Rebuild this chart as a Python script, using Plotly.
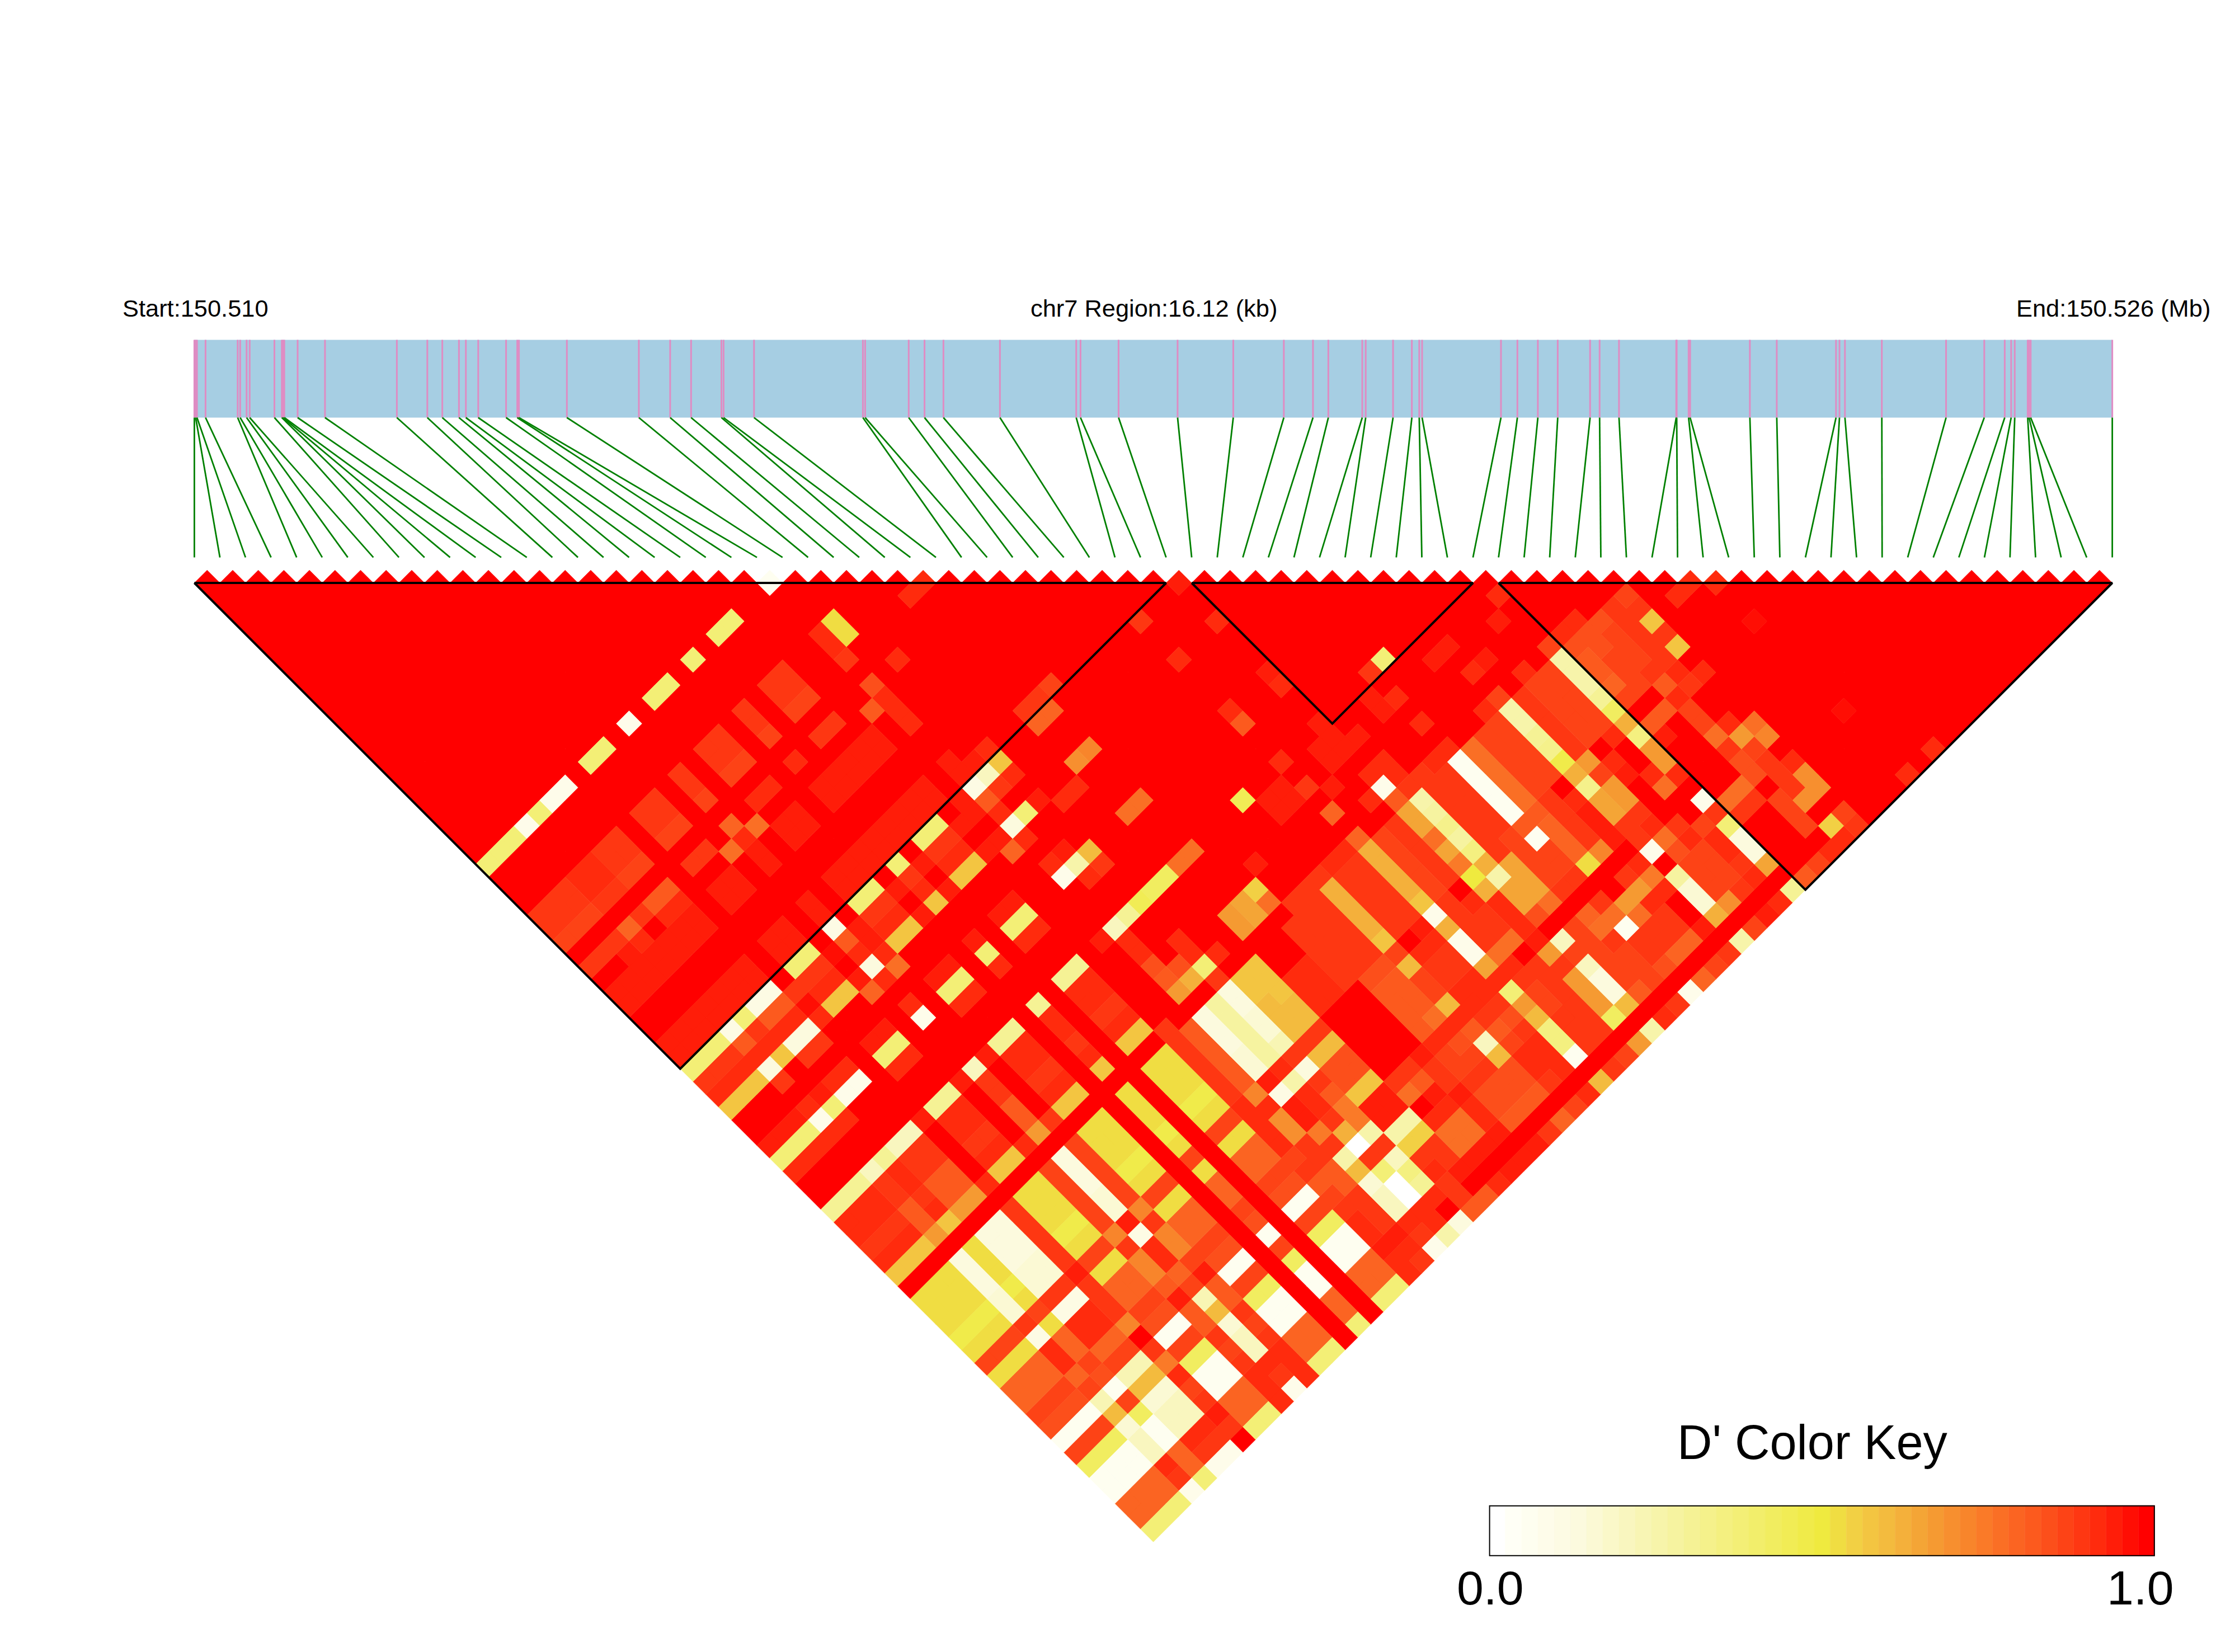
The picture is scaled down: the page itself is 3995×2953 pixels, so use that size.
import plotly.graph_objects as go

# ---------------- data ----------------
SNP_KB = [0,.011,.022,.094,.364,.385,.439,.465,.673,.735,.745,.756,.868,1.098,1.702,1.958,2.084,2.224,2.282,2.386,
          2.620,2.714,2.728,3.131,3.736,3.999,4.175,4.430,4.448,4.704,5.619,5.638,6.004,6.137,6.296,6.771,7.412,7.448,
          7.768,8.264,8.732,9.157,9.402,9.531,9.816,9.845,10.075,10.233,10.295,10.319,10.982,11.120,11.292,11.459,
          11.731,11.811,11.974,12.455,12.459,12.559,12.572,13.074,13.300,13.798,13.827,13.873,14.183,14.723,15.044,
          15.216,15.270,15.300,15.409,15.421,15.434,16.12]
REGION_KB = 16.12
BLOCKS = [(0, 38), (39, 50), (51, 75)]

# D' is stored as a colour-key level 0..40 (level/40 = D'); cells not listed are 40
Y_SNPS = [0,1,2,4,8,9,13,14,16,18,19]
P_SNPS = [3,5,6,11,22]
Y_BY_J = {23:15,39:15,40:36,41:37,42:23,45:38,46:15,47:37,50:12,51:37,52:37,53:36,54:37,55:23,57:21,58:21,59:21,60:19,
          61:21,62:35,63:21,64:32,65:32,66:35,67:34,68:2,69:35,70:17,71:2,72:2,73:32,74:32,75:15}
P_BY_J = {23:3,39:4,40:33,41:37,42:5,45:37,46:3,47:37,50:8,51:36,52:36,53:33,54:33,55:27,57:5,58:5,59:5,60:6,61:6,62:36,
          63:4,64:37,65:37,66:32,67:35,68:9,69:24,70:6,71:8,72:8,73:37,74:36,75:3}
ROWS_LOW = {
 23:{22:2},
 27:{0:36,1:36,2:36,3:37,4:37,5:36,6:36,8:36,9:36,11:36,13:36,14:36,16:36,18:36,19:36,22:37,23:21},
 28:{0:36,1:36,2:36,3:37,4:37,5:36,6:36,8:36,9:36,11:36,13:36,14:36,16:36,18:36,19:36,22:37,23:21},
 29:{0:35,1:35,2:35,3:36,4:36,5:35,6:35,8:35,9:35,11:35,13:35,14:35,16:35,18:35,19:35,22:36,27:37,28:37},
 31:{0:36,1:36,2:36,3:32,4:36,5:33,6:33,8:36,9:36,11:32,13:37,14:37,16:37,18:36,19:36,22:34,24:37},
 32:{2:38,3:37,5:37,6:37,10:31,11:37,12:31,21:33,22:37},
 33:{0:38,1:38,2:38,3:38,4:38,5:38,6:38,8:38,9:38,11:38,13:38,14:38,16:38,17:38,18:38,19:38,20:38,22:37},
 34:{0:38,1:38,2:38,3:38,4:38,5:38,6:38,8:38,9:38,11:38,13:38,14:38,16:38,17:38,18:38,19:38,20:38,22:37},
 37:{0:38,1:38,2:38,3:38,4:38,5:38,6:38,8:38,9:38,11:38,13:38,14:38,15:38,16:38,17:38,18:38,19:38,20:38,22:38},
 38:{0:38,1:38,2:38,3:38,4:38,5:38,6:38,8:38,9:38,11:38,13:38,14:38,15:38,16:38,17:38,18:38,19:38,20:38,22:38,23:38,24:37,27:36,28:36,29:35},
 39:{21:38,23:8,24:23,27:32,28:32,35:36,38:38},
 40:{7:36,10:39,12:38,15:38,17:38,20:38,21:38,23:36,24:37},
 41:{7:39,10:40,12:38},
 42:{7:37,10:38,12:37,15:38,17:38,20:38,21:38,23:15,24:38,27:28,28:29,35:37,38:37},
 43:{3:36,5:36,6:36,10:32,11:37,12:31,21:32,22:37,25:37,26:37},
 45:{22:37,23:38},
 46:{23:10,24:24,27:31,28:31,35:37,38:38},
 47:{5:40,6:40,11:40,22:40,23:37,24:36,35:33,38:37},
 50:{7:38,10:38,12:38,21:38,23:12,24:18,25:17,26:17,27:31,28:31,32:18,35:37,38:38,42:36,43:15},
 51:{22:37,33:38,34:38,37:38,38:38,41:38},
 52:{22:37,33:38,34:38,35:36,37:38,38:38,39:38,41:38,42:37,45:38,46:38,50:37},
 53:{22:34,24:37,30:38,36:38,49:38},
 54:{22:33,23:34,24:37,27:27,28:26,29:22,35:32,38:37,39:37,42:37,46:37,47:38},
 55:{7:37,10:37,12:36,23:25,24:15,25:37,27:27,28:26,29:31,37:37,38:3,39:37},
 56:{20:36,24:36,30:36,31:36,32:36,33:37,34:37,35:32,38:33,39:36,40:36,41:37,42:37,45:37,46:35,48:37,50:35,51:37,52:37},
}
# columns over j = 57..61
COLS_57_61 = {7:[36]*5,10:[35]*5,12:[35]*5,20:[36]*5,21:[33]*5,23:[11]*5,24:[5,5,6,6,9],25:[23,23,24,24,24],26:[23,23,23,24,24],
 27:[40,40,37,37,37],28:[40,40,37,37,37],29:[36]*5,30:[36]*5,31:[36]*5,32:[25,25,25,25,23],33:[36]*5,34:[36]*5,35:[25,25,25,25,23],
 36:[35]*5,37:[36]*5,38:[26,26,31,26,30],39:[10,11,13,11,14],40:[36]*5,41:[36]*5,42:[2]*5,43:[31]*5,44:[35]*5,45:[35]*5,
 46:[10,10,12,13,19],47:[36]*5,48:[35]*5,49:[35]*5,50:[10,10,10,12,17],51:[34,33,33,32,35],52:[34,34,35,35,35],
 53:[34,35,35,35,36],54:[36]*5,55:[35,36,23,36,23]}
ROWS_HIGH = {
 62:{7:38,10:29,11:38,12:29,20:37,21:29,22:38,23:37,24:36,25:36,26:36,30:34,31:34,32:35,34:38,35:3,36:36,38:20,39:25,40:36,41:35,42:33,43:33,44:36,46:25,47:27,49:37,50:25,53:33,54:37},
 63:{7:36,10:36,12:36,20:37,21:37,23:10,24:5,25:24,26:24,30:33,31:33,32:24,33:37,34:37,35:25,36:36,37:37,38:25,39:10,40:26,41:35,42:2,43:32,44:36,45:37,46:13,47:35,48:37,50:14,51:33,52:33,53:37,54:36,55:37},
 64:{7:36,10:29,12:29,20:37,21:28,22:38,23:37,24:36,25:34,26:34,30:33,31:33,32:35,33:36,34:36,35:3,36:36,37:36,38:37,39:26,40:26,41:35,42:35,43:32,44:36,45:38,46:26,47:27,48:38,50:27,51:38,53:35},
 65:{7:36,10:29,12:29,20:37,21:28,22:38,23:37,24:33,25:34,26:34,30:33,31:33,32:35,33:36,34:36,35:3,36:36,37:36,38:37,39:26,40:26,41:35,42:35,43:32,44:36,45:38,46:26,47:27,49:37,50:27,53:35},
 66:{7:29,10:33,12:35,20:35,21:36,22:30,23:36,24:30,25:23,26:23,30:33,31:31,32:24,33:37,34:37,35:26,36:31,37:31,38:37,39:34,40:31,41:36,42:36,43:21,44:29,45:38,46:36,47:36,49:31,50:37,53:31,54:37},
 67:{7:40,10:38,12:38,20:36,21:36,22:36,23:25,24:30,25:38,26:38,27:36,28:36,29:38,30:37,31:37,32:37,33:37,34:37,35:37,36:37,38:38,46:36,47:37,53:36,54:27,55:31},
 68:{7:36,10:33,12:33,20:33,21:33,22:10,23:0,24:10,25:38,26:38,27:31,28:33,29:36,30:35,31:34,32:33,33:36,34:36,35:15,36:36,37:36,38:27,39:8,40:35,41:32,42:36,44:36,45:37,46:3,47:31,48:36,50:3,53:34,54:35,55:29},
 69:{7:30,10:33,12:33,20:35,21:33,22:24,23:36,24:36,25:10,26:10,28:38,29:36,30:35,31:35,32:8,33:33,34:34,35:27,36:35,37:36,38:36,39:35,40:35,41:31,42:31,43:27,44:27,45:30,47:34,48:37,49:35,50:36,51:31,52:31,53:34,54:36},
 70:{7:37,10:36,12:36,20:36,21:36,22:6,23:15,24:8,25:22,26:22,27:37,28:37,29:38,30:36,31:36,32:24,33:35,34:36,35:24,36:35,37:36,38:27,39:8,40:35,41:36,42:2,43:31,44:37,45:37,46:11,47:35,48:35,49:37,50:15,51:36,52:36,54:36,55:37},
 71:{7:35,10:35,12:35,20:37,21:36,22:8,23:0,24:14,25:36,26:36,27:31,28:31,29:37,30:34,31:34,32:34,33:37,34:37,35:14,36:36,37:36,38:27,39:5,40:35,41:35,42:36,43:36,44:36,46:6,47:35,48:35,49:37,50:5,53:35,54:36,55:28},
 72:{7:36,10:36,12:36,20:37,21:36,22:8,23:0,24:12,25:37,26:36,27:31,28:31,29:37,30:34,31:34,32:34,33:37,34:37,35:14,36:36,37:36,38:27,39:5,40:35,41:35,42:36,43:36,44:36,46:6,47:35,48:35,49:36,50:5,53:35,54:28,55:28},
 73:{7:38,10:37,12:37,20:38,21:38,22:37,23:37,24:37,25:36,26:38,27:38,28:38,29:38,30:33,31:33,32:33,33:36,34:37,35:2,36:36,37:36,38:17,39:24,40:33,41:35,42:34,43:32,44:32,45:38,46:25,47:28,48:36,49:37,50:26,53:35},
 74:{7:36,10:37,12:37,20:37,21:37,22:36,23:37,25:36,54:22,55:35},
 75:{10:37,12:37,20:37,21:36,23:10,24:5,25:33,26:33,27:37,28:38,29:38,30:38,31:36,32:32,33:35,34:37,35:24,36:36,37:35,38:27,39:10,40:37,41:36,42:3,43:32,44:35,45:36,46:10,47:35,48:38,49:37,50:12,51:33,52:35,53:37,54:37,55:36,59:37,61:37},
}
SPARSE_UPPER = {(38,39):38,(35,42):37,(38,42):37,(38,46):38,(38,47):37,(43,50):15,(38,50):38,(35,50):37,(41,51):38,(39,52):38,(42,54):37,
 (49,53):38,(50,52):37,(46,52):38,(47,54):38,(46,54):37,(35,52):36,(36,53):38,(35,54):32,(33,51):38,(34,51):38,(33,52):38,(34,52):38,
 (28,29):37,(27,29):37,(57,59):37,(58,59):37,(59,60):37,(59,63):39,(59,70):39,(51,56):37}

N_SNP = len(SNP_KB)
KEY_TICKS = ["0.0", "1.0"]

# colour key anchors (level, colour)
KEY_ANCHORS = [(0,(255,255,255)),(1,(255,255,246)),(5,(252,250,222)),(10,(247,244,170)),(15,(243,239,118)),(20,(239,234,63)),(22,(242,208,68)),
               (25,(244,176,59)),(27,(245,154,50)),(30,(250,122,40)),(34,(252,79,27)),(37,(255,43,13)),(40,(255,0,0))]

def level_colour(level):
    for (a, ca), (b, cb) in zip(KEY_ANCHORS, KEY_ANCHORS[1:]):
        if a <= level <= b:
            t = (level - a) / (b - a)
            return "rgb(%d,%d,%d)" % tuple(round(p + (q - p) * t) for p, q in zip(ca, cb))
    return "rgb(255,0,0)"

# fill the matrix
levels = {(i, j): 40 for j in range(N_SNP) for i in range(j)}
def put(i, j, v):
    if (i, j) in levels:
        levels[(i, j)] = v
for j, v in Y_BY_J.items():
    for i in Y_SNPS: put(i, j, v)
for j, v in P_BY_J.items():
    for i in P_SNPS: put(i, j, v)
for rows in (ROWS_LOW, ROWS_HIGH):
    for j, row in rows.items():
        for i, v in row.items(): put(i, j, v)
for i, vals in COLS_57_61.items():
    for n, v in enumerate(vals): put(i, 57 + n, v)
for (i, j), v in SPARSE_UPPER.items(): put(i, j, v)

# ---------------- figure ----------------
W, H = 3995, 2953
X0, CELL, YTOP = 347.4, 45.71, 1019.15          # pixel frame of the plot axes
def yu(py): return (py - YTOP) / CELL
def xu(px): return (px - X0) / CELL

fig = go.Figure()

# annotation track
kx = [k / REGION_KB * (N_SNP - 1) for k in SNP_KB]
ty0, ty1, ly1 = yu(607.5), yu(746.5), yu(996.4)
fig.add_trace(go.Scatter(x=[0, N_SNP - 1, N_SNP - 1, 0, 0], y=[ty0, ty0, ty1, ty1, ty0], fill="toself", mode="none",
                         fillcolor="#A6CEE3", hoverinfo="skip", showlegend=False))
px, py, gx, gy = [], [], [], []
for n, k in enumerate(kx):
    px += [k, k, None]; py += [ty0, ty1, None]
    gx += [k, n, None]; gy += [ty1, ly1, None]
fig.add_trace(go.Scatter(x=px, y=py, mode="lines", line=dict(color="#DF8CC3", width=3), hoverinfo="skip", showlegend=False))
fig.add_trace(go.Scatter(x=gx, y=gy, mode="lines", line=dict(color="#008000", width=2.8), hoverinfo="skip", showlegend=False))

# LD cells, one filled trace per colour level
for lev in range(40, -1, -1):
    xs, ys = [], []
    for (i, j), v in levels.items():
        if v == lev:
            cx, cy = (i + j) / 2, (j - i) / 2
            xs += [cx - .5, cx, cx + .5, cx, cx - .5, None]
            ys += [cy, cy - .5, cy, cy + .5, cy, None]
    if xs:
        c = level_colour(lev)
        fig.add_trace(go.Scatter(x=xs, y=ys, mode="lines", fill="toself", fillcolor=c, line=dict(color=c, width=.6),
                                 hoverinfo="skip", showlegend=False))

# LD blocks
bx, by = [], []
for a, b in BLOCKS:
    bx += [a, b, (a + b) / 2, a, None]
    by += [.5, .5, (b - a) / 2 + .5, .5, None]
fig.add_trace(go.Scatter(x=bx, y=by, mode="lines", line=dict(color="black", width=4), hoverinfo="skip", showlegend=False))

# colour key on its own axes
for lev in range(41):
    a, b = lev / 41, (lev + 1) / 41
    c = level_colour(lev)
    fig.add_trace(go.Scatter(x=[a, b, b, a, a], y=[0, 0, 1, 1, 0], mode="lines", fill="toself", fillcolor=c, line=dict(color=c, width=.5),
                             xaxis="x2", yaxis="y2", hoverinfo="skip", showlegend=False))
fig.add_trace(go.Scatter(x=[0, 1, 1, 0, 0], y=[0, 0, 1, 1, 0], mode="lines", line=dict(color="black", width=4),
                         xaxis="x2", yaxis="y2", hoverinfo="skip", showlegend=False))

FONT = "Liberation Sans, Arial, sans-serif"
def label(px_x, px_y, text, size):
    fig.add_annotation(x=px_x / W, y=1 - px_y / H, xref="paper", yref="paper", text=text, showarrow=False,
                       xanchor="center", yanchor="middle", font=dict(family=FONT, size=size, color="black"))
label(349, 551, "Start:150.510", 43.4)
label(2062, 551, "chr7 Region:16.12 (kb)", 43.4)
label(3777, 551, "End:150.526 (Mb)", 43.4)
label(3240, 2578, "D' Color Key", 86.5)
label(2664, 2838, KEY_TICKS[0], 86)
label(3826, 2838, KEY_TICKS[1], 86)

fig.update_layout(
    width=W, height=H, margin=dict(l=0, r=0, t=0, b=0), paper_bgcolor="white", plot_bgcolor="rgba(0,0,0,0)", showlegend=False,
    xaxis=dict(visible=False, range=[xu(0), xu(W)], domain=[0, 1], fixedrange=True),
    yaxis=dict(visible=False, range=[yu(H), yu(0)], domain=[0, 1], fixedrange=True),
    xaxis2=dict(visible=False, range=[0, 1], domain=[2661.6 / W, 3851.8 / W], anchor="y2", fixedrange=True),
    yaxis2=dict(visible=False, range=[0, 1], domain=[1 - 2781.7 / H, 1 - 2690.7 / H], anchor="x2", fixedrange=True),
)
fig.write_html("out.html", config=dict(displayModeBar=False),
               post_script="document.body.style.margin='0';document.documentElement.style.overflow='hidden';")
